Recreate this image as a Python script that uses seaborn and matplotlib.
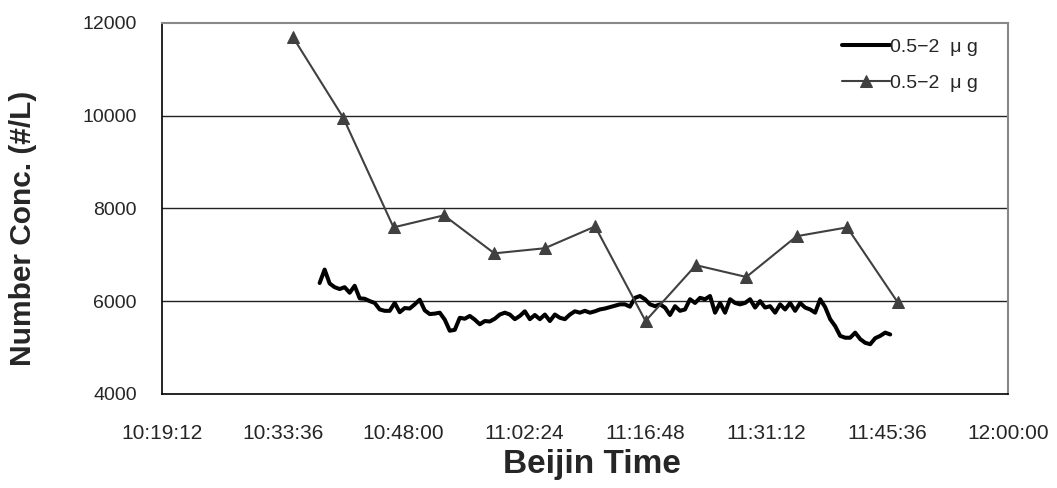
import pandas as pd
import numpy as np
import seaborn as sns
import matplotlib.pyplot as plt
import matplotlib.dates as mdates

# black line, about every 36 s from 10:38:00 to 11:45:56
line_start = "2000-01-01 10:38:00"
line_end = "2000-01-01 11:45:56"
line_values = [
    6390, 6680, 6380, 6300, 6260, 6300, 6180, 6330, 6060, 6050,
    6000, 5960, 5820, 5790, 5790, 5960, 5760, 5850, 5840, 5930,
    6030, 5800, 5720, 5730, 5750, 5600, 5360, 5380, 5640, 5620,
    5680, 5600, 5500, 5570, 5560, 5620, 5710, 5750, 5710, 5610,
    5680, 5780, 5610, 5700, 5610, 5710, 5570, 5710, 5640, 5610,
    5710, 5780, 5750, 5790, 5750, 5780, 5820, 5840, 5870, 5900,
    5930, 5930, 5880, 6070, 6110, 6040, 5930, 5890, 5930, 5860,
    5700, 5890, 5790, 5820, 6040, 5960, 6070, 6040, 6110, 5750,
    5960, 5750, 6040, 5960, 5930, 5960, 6040, 5860, 6000, 5860,
    5890, 5750, 5930, 5820, 5960, 5790, 5960, 5860, 5820, 5750,
    6040, 5870, 5610, 5460, 5250, 5210, 5210, 5320, 5180, 5100,
    5070, 5200, 5250, 5320, 5280,
]

# triangle series
tri_times = ["10:34:48", "10:40:48", "10:46:48", "10:52:48", "10:58:48",
             "11:04:48", "11:10:48", "11:16:48", "11:22:48", "11:28:48",
             "11:34:48", "11:40:48", "11:46:48"]
tri_values = [11700, 9960, 7590, 7850, 7030, 7140, 7610, 5570, 6775, 6520,
              7400, 7590, 5980]

tick_labels = ["10:19:12", "10:33:36", "10:48:00", "11:02:24", "11:16:48",
               "11:31:12", "11:45:36", "12:00:00"]
y_ticks = [4000, 6000, 8000, 10000, 12000]
label = "0.5\u22122  \u03bc g"

line_df = pd.DataFrame({
    "time": pd.date_range(line_start, line_end, periods=len(line_values)),
    "conc": line_values,
})
tri_df = pd.DataFrame({
    "time": pd.to_datetime(["2000-01-01 " + t for t in tri_times]),
    "conc": tri_values,
})

sns.set_style("white")
plt.rcParams["font.family"] = ["Liberation Sans", "DejaVu Sans"]

fig = plt.figure(figsize=(10.57, 4.88), dpi=100)
ax = fig.add_axes([0.153, 0.193, 0.801, 0.760])

for yv in y_ticks[1:-1]:
    ax.axhline(yv, color="#222222", lw=1.0, zorder=1)

sns.lineplot(data=line_df, x="time", y="conc", ax=ax, color="black",
             lw=2.9, label=label, zorder=3)
sns.lineplot(data=tri_df, x="time", y="conc", ax=ax, color="#404040",
             lw=1.5, marker="^", markersize=9, markeredgecolor="#404040",
             label=label, zorder=4)

ticks = pd.to_datetime(["2000-01-01 " + t for t in tick_labels])
ax.set_xlim(ticks[0], ticks[-1])
ax.set_xticks(ticks)
ax.set_xticklabels(tick_labels)
ax.set_ylim(4000, 12000)
ax.set_yticks(y_ticks)

ax.tick_params(axis="x", direction="in", length=5, width=1, color="black",
               pad=22, labelsize=15)
ax.tick_params(axis="y", length=0, pad=18, labelsize=14)

for side in ["left", "bottom"]:
    ax.spines[side].set_color("black")
    ax.spines[side].set_linewidth(1.2)
for side in ["top", "right"]:
    ax.spines[side].set_color("#888888")
    ax.spines[side].set_linewidth(1.5)

ax.set_xlabel("Beijin Time", fontsize=24, fontweight="bold")
ax.set_ylabel("Number Conc. (#/L)", fontsize=21.5, fontweight="bold")
ax.xaxis.set_label_coords(0.508, -0.19)
ax.xaxis.label.set_va("center")
ax.yaxis.set_label_coords(-0.164, 0.447)
ax.yaxis.label.set_va("center")

leg = ax.legend(loc="upper right", bbox_to_anchor=(0.985, 1.006), frameon=False,
                fontsize=14, handlelength=2.5, handletextpad=0.0,
                labelspacing=0.95)

fig.savefig("out.png", dpi=100)
